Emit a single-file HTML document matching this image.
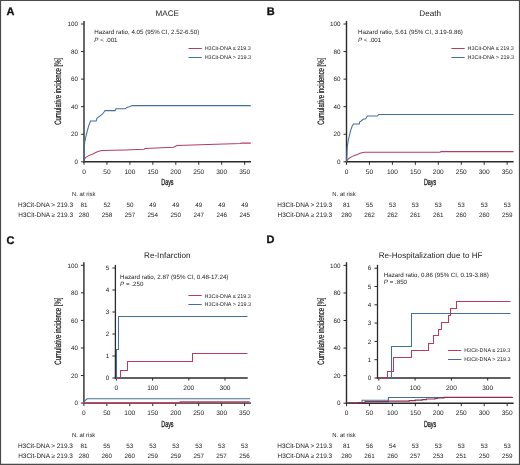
<!DOCTYPE html>
<html><head><meta charset="utf-8"><title>Cumulative incidence</title>
<style>html,body{margin:0;padding:0;background:#fff;width:520px;height:465px;overflow:hidden;}body{position:relative;font-family:"Liberation Sans", sans-serif;}</style>
</head><body>
<svg width="520" height="465" viewBox="0 0 520 465" style="position:absolute;left:0;top:0;will-change:transform" text-rendering="geometricPrecision" font-family='"Liberation Sans", sans-serif'>
<rect x="0" y="0" width="520" height="465" fill="#fff"/>
<text x="6.60" y="14.50" font-size="11.0" text-anchor="start" font-weight="bold" fill="#111" stroke="#111" stroke-width="0.3">A</text>
<text x="167.30" y="15.70" font-size="8.15" text-anchor="middle" font-weight="normal" fill="#1c1c1c" >MACE</text>
<line x1="84.00" y1="21.00" x2="84.00" y2="162.50" stroke="#2a2a2a" stroke-width="1.4"/>
<line x1="83.30" y1="161.80" x2="251.00" y2="161.80" stroke="#2a2a2a" stroke-width="1.4"/>
<line x1="81.00" y1="161.80" x2="84.00" y2="161.80" stroke="#2a2a2a" stroke-width="1"/>
<text x="78.00" y="164.00" font-size="6.3" text-anchor="end" font-weight="normal" fill="#1c1c1c" >0</text>
<line x1="81.00" y1="134.24" x2="84.00" y2="134.24" stroke="#2a2a2a" stroke-width="1"/>
<text x="78.00" y="136.44" font-size="6.3" text-anchor="end" font-weight="normal" fill="#1c1c1c" >20</text>
<line x1="81.00" y1="106.68" x2="84.00" y2="106.68" stroke="#2a2a2a" stroke-width="1"/>
<text x="78.00" y="108.88" font-size="6.3" text-anchor="end" font-weight="normal" fill="#1c1c1c" >40</text>
<line x1="81.00" y1="79.12" x2="84.00" y2="79.12" stroke="#2a2a2a" stroke-width="1"/>
<text x="78.00" y="81.32" font-size="6.3" text-anchor="end" font-weight="normal" fill="#1c1c1c" >60</text>
<line x1="81.00" y1="51.56" x2="84.00" y2="51.56" stroke="#2a2a2a" stroke-width="1"/>
<text x="78.00" y="53.76" font-size="6.3" text-anchor="end" font-weight="normal" fill="#1c1c1c" >80</text>
<line x1="81.00" y1="24.00" x2="84.00" y2="24.00" stroke="#2a2a2a" stroke-width="1"/>
<text x="78.00" y="26.20" font-size="6.3" text-anchor="end" font-weight="normal" fill="#1c1c1c" >100</text>
<line x1="84.00" y1="161.80" x2="84.00" y2="164.80" stroke="#2a2a2a" stroke-width="1"/>
<text x="84.00" y="173.80" font-size="6.55" text-anchor="middle" font-weight="normal" fill="#1c1c1c" >0</text>
<line x1="106.95" y1="161.80" x2="106.95" y2="164.80" stroke="#2a2a2a" stroke-width="1"/>
<text x="106.95" y="173.80" font-size="6.55" text-anchor="middle" font-weight="normal" fill="#1c1c1c" >50</text>
<line x1="129.90" y1="161.80" x2="129.90" y2="164.80" stroke="#2a2a2a" stroke-width="1"/>
<text x="129.90" y="173.80" font-size="6.55" text-anchor="middle" font-weight="normal" fill="#1c1c1c" >100</text>
<line x1="152.85" y1="161.80" x2="152.85" y2="164.80" stroke="#2a2a2a" stroke-width="1"/>
<text x="152.85" y="173.80" font-size="6.55" text-anchor="middle" font-weight="normal" fill="#1c1c1c" >150</text>
<line x1="175.80" y1="161.80" x2="175.80" y2="164.80" stroke="#2a2a2a" stroke-width="1"/>
<text x="175.80" y="173.80" font-size="6.55" text-anchor="middle" font-weight="normal" fill="#1c1c1c" >200</text>
<line x1="198.75" y1="161.80" x2="198.75" y2="164.80" stroke="#2a2a2a" stroke-width="1"/>
<text x="198.75" y="173.80" font-size="6.55" text-anchor="middle" font-weight="normal" fill="#1c1c1c" >250</text>
<line x1="221.70" y1="161.80" x2="221.70" y2="164.80" stroke="#2a2a2a" stroke-width="1"/>
<text x="221.70" y="173.80" font-size="6.55" text-anchor="middle" font-weight="normal" fill="#1c1c1c" >300</text>
<line x1="244.65" y1="161.80" x2="244.65" y2="164.80" stroke="#2a2a2a" stroke-width="1"/>
<text x="244.65" y="173.80" font-size="6.55" text-anchor="middle" font-weight="normal" fill="#1c1c1c" >350</text>
<text transform="translate(61.10,91.30) rotate(-90) scale(0.65,1)" font-size="9.2" text-anchor="middle" fill="#1c1c1c" stroke="#1c1c1c" stroke-width="0.22" x="0" y="0">Cumulative incidence [%]</text>
<text transform="translate(167.40,185.30) scale(0.61,1)" font-size="8.9" text-anchor="middle" fill="#1c1c1c" stroke="#1c1c1c" stroke-width="0.32" x="0" y="0">Days</text>
<text x="94.30" y="34.00" font-size="6.2" text-anchor="start" font-weight="normal" fill="#1c1c1c" >Hazard ratio, 4.05 (95% CI, 2.52-6.50)</text>
<text x="94.30" y="41.60" font-size="6.2" fill="#1c1c1c"><tspan font-style="italic">P</tspan> < .001</text>
<line x1="188.50" y1="48.50" x2="201.80" y2="48.50" stroke="#b53d5e" stroke-width="1.0"/>
<line x1="188.50" y1="57.50" x2="201.80" y2="57.50" stroke="#42709a" stroke-width="1.0"/>
<text x="204.70" y="50.10" font-size="5.45" text-anchor="start" font-weight="normal" fill="#1c1c1c" >H3Cit-DNA ≤ 219.3</text>
<text x="204.70" y="59.10" font-size="5.45" text-anchor="start" font-weight="normal" fill="#1c1c1c" >H3Cit-DNA &gt; 219.3</text>
<polyline points="83.80,161.30 85.40,157.60 88.80,155.60 92.80,153.90 96.20,152.20 98.90,151.20 101.60,150.40 125.40,149.90 137.00,149.60 144.00,149.30 145.00,148.60 173.50,147.30 177.00,145.60 216.00,144.30 240.50,143.60 241.00,143.10 250.80,143.10" fill="none" stroke="#b53d5e" stroke-width="1.05" stroke-linejoin="miter"/>
<polyline points="83.90,161.80 84.20,147.00 84.80,141.90 85.90,136.50 87.50,130.00 89.10,124.70 90.50,121.00 96.20,121.00 96.90,118.30 98.00,117.30 99.60,116.30 102.30,114.20 104.40,111.50 105.00,110.60 115.20,110.60 115.90,108.80 125.40,108.80 126.70,107.50 130.10,106.50 132.10,105.60 250.80,105.60" fill="none" stroke="#42709a" stroke-width="1.05" stroke-linejoin="miter"/>
<text x="72.00" y="196.20" font-size="5.95" text-anchor="start" font-weight="normal" fill="#1c1c1c" >N. at risk</text>
<text x="73.00" y="206.80" font-size="6.45" text-anchor="end" font-weight="normal" fill="#1c1c1c" >H3Cit-DNA &gt; 219.3</text>
<text x="73.00" y="216.80" font-size="6.45" text-anchor="end" font-weight="normal" fill="#1c1c1c" >H3Cit-DNA ≥ 219.3</text>
<text x="84.00" y="206.80" font-size="6.3" text-anchor="middle" font-weight="normal" fill="#1c1c1c" >81</text>
<text x="84.00" y="216.80" font-size="6.3" text-anchor="middle" font-weight="normal" fill="#1c1c1c" >280</text>
<text x="106.95" y="206.80" font-size="6.3" text-anchor="middle" font-weight="normal" fill="#1c1c1c" >52</text>
<text x="106.95" y="216.80" font-size="6.3" text-anchor="middle" font-weight="normal" fill="#1c1c1c" >258</text>
<text x="129.90" y="206.80" font-size="6.3" text-anchor="middle" font-weight="normal" fill="#1c1c1c" >50</text>
<text x="129.90" y="216.80" font-size="6.3" text-anchor="middle" font-weight="normal" fill="#1c1c1c" >257</text>
<text x="152.85" y="206.80" font-size="6.3" text-anchor="middle" font-weight="normal" fill="#1c1c1c" >49</text>
<text x="152.85" y="216.80" font-size="6.3" text-anchor="middle" font-weight="normal" fill="#1c1c1c" >254</text>
<text x="175.80" y="206.80" font-size="6.3" text-anchor="middle" font-weight="normal" fill="#1c1c1c" >49</text>
<text x="175.80" y="216.80" font-size="6.3" text-anchor="middle" font-weight="normal" fill="#1c1c1c" >250</text>
<text x="198.75" y="206.80" font-size="6.3" text-anchor="middle" font-weight="normal" fill="#1c1c1c" >49</text>
<text x="198.75" y="216.80" font-size="6.3" text-anchor="middle" font-weight="normal" fill="#1c1c1c" >247</text>
<text x="221.70" y="206.80" font-size="6.3" text-anchor="middle" font-weight="normal" fill="#1c1c1c" >49</text>
<text x="221.70" y="216.80" font-size="6.3" text-anchor="middle" font-weight="normal" fill="#1c1c1c" >246</text>
<text x="244.65" y="206.80" font-size="6.3" text-anchor="middle" font-weight="normal" fill="#1c1c1c" >49</text>
<text x="244.65" y="216.80" font-size="6.3" text-anchor="middle" font-weight="normal" fill="#1c1c1c" >245</text>
<text x="266.70" y="14.60" font-size="11.0" text-anchor="start" font-weight="bold" fill="#111" stroke="#111" stroke-width="0.3">B</text>
<text x="430.20" y="15.70" font-size="8.15" text-anchor="middle" font-weight="normal" fill="#1c1c1c" >Death</text>
<line x1="346.50" y1="21.00" x2="346.50" y2="162.50" stroke="#2a2a2a" stroke-width="1.4"/>
<line x1="345.80" y1="161.80" x2="513.60" y2="161.80" stroke="#2a2a2a" stroke-width="1.4"/>
<line x1="343.50" y1="161.80" x2="346.50" y2="161.80" stroke="#2a2a2a" stroke-width="1"/>
<text x="340.50" y="164.00" font-size="6.3" text-anchor="end" font-weight="normal" fill="#1c1c1c" >0</text>
<line x1="343.50" y1="134.24" x2="346.50" y2="134.24" stroke="#2a2a2a" stroke-width="1"/>
<text x="340.50" y="136.44" font-size="6.3" text-anchor="end" font-weight="normal" fill="#1c1c1c" >20</text>
<line x1="343.50" y1="106.68" x2="346.50" y2="106.68" stroke="#2a2a2a" stroke-width="1"/>
<text x="340.50" y="108.88" font-size="6.3" text-anchor="end" font-weight="normal" fill="#1c1c1c" >40</text>
<line x1="343.50" y1="79.12" x2="346.50" y2="79.12" stroke="#2a2a2a" stroke-width="1"/>
<text x="340.50" y="81.32" font-size="6.3" text-anchor="end" font-weight="normal" fill="#1c1c1c" >60</text>
<line x1="343.50" y1="51.56" x2="346.50" y2="51.56" stroke="#2a2a2a" stroke-width="1"/>
<text x="340.50" y="53.76" font-size="6.3" text-anchor="end" font-weight="normal" fill="#1c1c1c" >80</text>
<line x1="343.50" y1="24.00" x2="346.50" y2="24.00" stroke="#2a2a2a" stroke-width="1"/>
<text x="340.50" y="26.20" font-size="6.3" text-anchor="end" font-weight="normal" fill="#1c1c1c" >100</text>
<line x1="346.50" y1="161.80" x2="346.50" y2="164.80" stroke="#2a2a2a" stroke-width="1"/>
<text x="346.50" y="173.80" font-size="6.55" text-anchor="middle" font-weight="normal" fill="#1c1c1c" >0</text>
<line x1="369.45" y1="161.80" x2="369.45" y2="164.80" stroke="#2a2a2a" stroke-width="1"/>
<text x="369.45" y="173.80" font-size="6.55" text-anchor="middle" font-weight="normal" fill="#1c1c1c" >50</text>
<line x1="392.40" y1="161.80" x2="392.40" y2="164.80" stroke="#2a2a2a" stroke-width="1"/>
<text x="392.40" y="173.80" font-size="6.55" text-anchor="middle" font-weight="normal" fill="#1c1c1c" >100</text>
<line x1="415.35" y1="161.80" x2="415.35" y2="164.80" stroke="#2a2a2a" stroke-width="1"/>
<text x="415.35" y="173.80" font-size="6.55" text-anchor="middle" font-weight="normal" fill="#1c1c1c" >150</text>
<line x1="438.30" y1="161.80" x2="438.30" y2="164.80" stroke="#2a2a2a" stroke-width="1"/>
<text x="438.30" y="173.80" font-size="6.55" text-anchor="middle" font-weight="normal" fill="#1c1c1c" >200</text>
<line x1="461.25" y1="161.80" x2="461.25" y2="164.80" stroke="#2a2a2a" stroke-width="1"/>
<text x="461.25" y="173.80" font-size="6.55" text-anchor="middle" font-weight="normal" fill="#1c1c1c" >250</text>
<line x1="484.20" y1="161.80" x2="484.20" y2="164.80" stroke="#2a2a2a" stroke-width="1"/>
<text x="484.20" y="173.80" font-size="6.55" text-anchor="middle" font-weight="normal" fill="#1c1c1c" >300</text>
<line x1="507.15" y1="161.80" x2="507.15" y2="164.80" stroke="#2a2a2a" stroke-width="1"/>
<text x="507.15" y="173.80" font-size="6.55" text-anchor="middle" font-weight="normal" fill="#1c1c1c" >350</text>
<text transform="translate(323.60,91.30) rotate(-90) scale(0.65,1)" font-size="9.2" text-anchor="middle" fill="#1c1c1c" stroke="#1c1c1c" stroke-width="0.22" x="0" y="0">Cumulative incidence [%]</text>
<text transform="translate(430.10,185.30) scale(0.61,1)" font-size="8.9" text-anchor="middle" fill="#1c1c1c" stroke="#1c1c1c" stroke-width="0.32" x="0" y="0">Days</text>
<text x="358.00" y="33.90" font-size="6.2" text-anchor="start" font-weight="normal" fill="#1c1c1c" >Hazard ratio, 5.61 (95% CI, 3.19-9.86)</text>
<text x="358.00" y="41.50" font-size="6.2" fill="#1c1c1c"><tspan font-style="italic">P</tspan> < .001</text>
<line x1="451.40" y1="48.50" x2="464.70" y2="48.50" stroke="#b53d5e" stroke-width="1.0"/>
<line x1="451.40" y1="57.50" x2="464.70" y2="57.50" stroke="#42709a" stroke-width="1.0"/>
<text x="467.60" y="50.00" font-size="5.45" text-anchor="start" font-weight="normal" fill="#1c1c1c" >H3Cit-DNA ≤ 219.3</text>
<text x="467.60" y="59.00" font-size="5.45" text-anchor="start" font-weight="normal" fill="#1c1c1c" >H3Cit-DNA &gt; 219.3</text>
<polyline points="346.50,161.30 348.70,158.50 351.90,156.60 355.00,155.30 357.50,154.60 359.30,153.60 361.80,152.80 364.50,152.30 440.00,152.30 441.00,151.60 513.60,151.60" fill="none" stroke="#b53d5e" stroke-width="1.05" stroke-linejoin="miter"/>
<polyline points="346.50,161.80 346.90,155.00 347.20,147.40 348.10,141.20 349.40,135.50 350.60,130.60 352.20,126.00 353.50,124.00 359.30,124.00 359.70,121.80 361.20,121.00 363.10,119.30 365.60,118.70 367.40,116.00 377.40,116.00 378.70,114.40 513.60,114.40" fill="none" stroke="#42709a" stroke-width="1.05" stroke-linejoin="miter"/>
<text x="332.30" y="196.20" font-size="5.95" text-anchor="start" font-weight="normal" fill="#1c1c1c" >N. at risk</text>
<text x="332.20" y="206.80" font-size="6.45" text-anchor="end" font-weight="normal" fill="#1c1c1c" >H3Cit-DNA &gt; 219.3</text>
<text x="332.20" y="216.80" font-size="6.45" text-anchor="end" font-weight="normal" fill="#1c1c1c" >H3Cit-DNA ≥ 219.3</text>
<text x="346.50" y="206.80" font-size="6.3" text-anchor="middle" font-weight="normal" fill="#1c1c1c" >81</text>
<text x="346.50" y="216.80" font-size="6.3" text-anchor="middle" font-weight="normal" fill="#1c1c1c" >280</text>
<text x="369.45" y="206.80" font-size="6.3" text-anchor="middle" font-weight="normal" fill="#1c1c1c" >55</text>
<text x="369.45" y="216.80" font-size="6.3" text-anchor="middle" font-weight="normal" fill="#1c1c1c" >262</text>
<text x="392.40" y="206.80" font-size="6.3" text-anchor="middle" font-weight="normal" fill="#1c1c1c" >53</text>
<text x="392.40" y="216.80" font-size="6.3" text-anchor="middle" font-weight="normal" fill="#1c1c1c" >262</text>
<text x="415.35" y="206.80" font-size="6.3" text-anchor="middle" font-weight="normal" fill="#1c1c1c" >53</text>
<text x="415.35" y="216.80" font-size="6.3" text-anchor="middle" font-weight="normal" fill="#1c1c1c" >261</text>
<text x="438.30" y="206.80" font-size="6.3" text-anchor="middle" font-weight="normal" fill="#1c1c1c" >53</text>
<text x="438.30" y="216.80" font-size="6.3" text-anchor="middle" font-weight="normal" fill="#1c1c1c" >261</text>
<text x="461.25" y="206.80" font-size="6.3" text-anchor="middle" font-weight="normal" fill="#1c1c1c" >53</text>
<text x="461.25" y="216.80" font-size="6.3" text-anchor="middle" font-weight="normal" fill="#1c1c1c" >260</text>
<text x="484.20" y="206.80" font-size="6.3" text-anchor="middle" font-weight="normal" fill="#1c1c1c" >53</text>
<text x="484.20" y="216.80" font-size="6.3" text-anchor="middle" font-weight="normal" fill="#1c1c1c" >260</text>
<text x="507.15" y="206.80" font-size="6.3" text-anchor="middle" font-weight="normal" fill="#1c1c1c" >53</text>
<text x="507.15" y="216.80" font-size="6.3" text-anchor="middle" font-weight="normal" fill="#1c1c1c" >259</text>
<text x="6.60" y="243.50" font-size="11.0" text-anchor="start" font-weight="bold" fill="#111" stroke="#111" stroke-width="0.3">C</text>
<text x="167.30" y="257.50" font-size="8.15" text-anchor="middle" font-weight="normal" fill="#1c1c1c" >Re-Infarction</text>
<line x1="83.90" y1="262.20" x2="83.90" y2="403.80" stroke="#2a2a2a" stroke-width="1.4"/>
<line x1="83.20" y1="403.10" x2="251.00" y2="403.10" stroke="#2a2a2a" stroke-width="1.4"/>
<line x1="80.90" y1="403.10" x2="83.90" y2="403.10" stroke="#2a2a2a" stroke-width="1"/>
<text x="77.90" y="405.30" font-size="6.3" text-anchor="end" font-weight="normal" fill="#1c1c1c" >0</text>
<line x1="80.90" y1="375.54" x2="83.90" y2="375.54" stroke="#2a2a2a" stroke-width="1"/>
<text x="77.90" y="377.74" font-size="6.3" text-anchor="end" font-weight="normal" fill="#1c1c1c" >20</text>
<line x1="80.90" y1="347.98" x2="83.90" y2="347.98" stroke="#2a2a2a" stroke-width="1"/>
<text x="77.90" y="350.18" font-size="6.3" text-anchor="end" font-weight="normal" fill="#1c1c1c" >40</text>
<line x1="80.90" y1="320.42" x2="83.90" y2="320.42" stroke="#2a2a2a" stroke-width="1"/>
<text x="77.90" y="322.62" font-size="6.3" text-anchor="end" font-weight="normal" fill="#1c1c1c" >60</text>
<line x1="80.90" y1="292.86" x2="83.90" y2="292.86" stroke="#2a2a2a" stroke-width="1"/>
<text x="77.90" y="295.06" font-size="6.3" text-anchor="end" font-weight="normal" fill="#1c1c1c" >80</text>
<line x1="80.90" y1="265.30" x2="83.90" y2="265.30" stroke="#2a2a2a" stroke-width="1"/>
<text x="77.90" y="267.50" font-size="6.3" text-anchor="end" font-weight="normal" fill="#1c1c1c" >100</text>
<line x1="83.90" y1="403.10" x2="83.90" y2="406.10" stroke="#2a2a2a" stroke-width="1"/>
<text x="83.90" y="415.10" font-size="6.55" text-anchor="middle" font-weight="normal" fill="#1c1c1c" >0</text>
<line x1="106.85" y1="403.10" x2="106.85" y2="406.10" stroke="#2a2a2a" stroke-width="1"/>
<text x="106.85" y="415.10" font-size="6.55" text-anchor="middle" font-weight="normal" fill="#1c1c1c" >50</text>
<line x1="129.80" y1="403.10" x2="129.80" y2="406.10" stroke="#2a2a2a" stroke-width="1"/>
<text x="129.80" y="415.10" font-size="6.55" text-anchor="middle" font-weight="normal" fill="#1c1c1c" >100</text>
<line x1="152.75" y1="403.10" x2="152.75" y2="406.10" stroke="#2a2a2a" stroke-width="1"/>
<text x="152.75" y="415.10" font-size="6.55" text-anchor="middle" font-weight="normal" fill="#1c1c1c" >150</text>
<line x1="175.70" y1="403.10" x2="175.70" y2="406.10" stroke="#2a2a2a" stroke-width="1"/>
<text x="175.70" y="415.10" font-size="6.55" text-anchor="middle" font-weight="normal" fill="#1c1c1c" >200</text>
<line x1="198.65" y1="403.10" x2="198.65" y2="406.10" stroke="#2a2a2a" stroke-width="1"/>
<text x="198.65" y="415.10" font-size="6.55" text-anchor="middle" font-weight="normal" fill="#1c1c1c" >250</text>
<line x1="221.60" y1="403.10" x2="221.60" y2="406.10" stroke="#2a2a2a" stroke-width="1"/>
<text x="221.60" y="415.10" font-size="6.55" text-anchor="middle" font-weight="normal" fill="#1c1c1c" >300</text>
<line x1="244.55" y1="403.10" x2="244.55" y2="406.10" stroke="#2a2a2a" stroke-width="1"/>
<text x="244.55" y="415.10" font-size="6.55" text-anchor="middle" font-weight="normal" fill="#1c1c1c" >350</text>
<text transform="translate(61.10,331.10) rotate(-90) scale(0.65,1)" font-size="9.2" text-anchor="middle" fill="#1c1c1c" stroke="#1c1c1c" stroke-width="0.22" x="0" y="0">Cumulative incidence [%]</text>
<text transform="translate(167.40,426.50) scale(0.61,1)" font-size="8.9" text-anchor="middle" fill="#1c1c1c" stroke="#1c1c1c" stroke-width="0.32" x="0" y="0">Days</text>
<polyline points="83.90,403.10 83.90,401.60 87.20,398.80 250.20,398.80" fill="none" stroke="#42709a" stroke-width="1.1" stroke-linejoin="miter"/>
<polyline points="82.60,403.00 180.30,403.00 180.30,402.00 249.60,402.00" fill="none" stroke="#b53d5e" stroke-width="1.5" stroke-linejoin="miter"/>
<line x1="115.40" y1="264.90" x2="115.40" y2="378.60" stroke="#2a2a2a" stroke-width="1.3"/>
<line x1="114.80" y1="378.00" x2="247.70" y2="378.00" stroke="#2a2a2a" stroke-width="1.4"/>
<line x1="112.40" y1="378.00" x2="115.40" y2="378.00" stroke="#2a2a2a" stroke-width="1"/>
<text x="109.20" y="380.20" font-size="6.3" text-anchor="end" font-weight="normal" fill="#1c1c1c" >0</text>
<line x1="112.40" y1="356.00" x2="115.40" y2="356.00" stroke="#2a2a2a" stroke-width="1"/>
<text x="109.20" y="358.20" font-size="6.3" text-anchor="end" font-weight="normal" fill="#1c1c1c" >1</text>
<line x1="112.40" y1="334.00" x2="115.40" y2="334.00" stroke="#2a2a2a" stroke-width="1"/>
<text x="109.20" y="336.20" font-size="6.3" text-anchor="end" font-weight="normal" fill="#1c1c1c" >2</text>
<line x1="112.40" y1="312.00" x2="115.40" y2="312.00" stroke="#2a2a2a" stroke-width="1"/>
<text x="109.20" y="314.20" font-size="6.3" text-anchor="end" font-weight="normal" fill="#1c1c1c" >3</text>
<line x1="112.40" y1="290.00" x2="115.40" y2="290.00" stroke="#2a2a2a" stroke-width="1"/>
<text x="109.20" y="292.20" font-size="6.3" text-anchor="end" font-weight="normal" fill="#1c1c1c" >4</text>
<line x1="112.40" y1="268.00" x2="115.40" y2="268.00" stroke="#2a2a2a" stroke-width="1"/>
<text x="109.20" y="270.20" font-size="6.3" text-anchor="end" font-weight="normal" fill="#1c1c1c" >5</text>
<line x1="116.40" y1="378.00" x2="116.40" y2="380.60" stroke="#2a2a2a" stroke-width="1"/>
<text x="116.40" y="389.60" font-size="6.55" text-anchor="middle" font-weight="normal" fill="#1c1c1c" >0</text>
<line x1="152.60" y1="378.00" x2="152.60" y2="380.60" stroke="#2a2a2a" stroke-width="1"/>
<text x="152.60" y="389.60" font-size="6.55" text-anchor="middle" font-weight="normal" fill="#1c1c1c" >100</text>
<line x1="188.80" y1="378.00" x2="188.80" y2="380.60" stroke="#2a2a2a" stroke-width="1"/>
<text x="188.80" y="389.60" font-size="6.55" text-anchor="middle" font-weight="normal" fill="#1c1c1c" >200</text>
<line x1="225.00" y1="378.00" x2="225.00" y2="380.60" stroke="#2a2a2a" stroke-width="1"/>
<text x="225.00" y="389.60" font-size="6.55" text-anchor="middle" font-weight="normal" fill="#1c1c1c" >300</text>
<text x="120.10" y="278.80" font-size="6.2" text-anchor="start" font-weight="normal" fill="#1c1c1c" >Hazard ratio, 2.87 (95% CI, 0.48-17.24)</text>
<text x="120.10" y="286.40" font-size="6.2" fill="#1c1c1c"><tspan font-style="italic">P</tspan> = .250</text>
<line x1="188.40" y1="295.50" x2="201.70" y2="295.50" stroke="#b53d5e" stroke-width="1.0"/>
<line x1="188.40" y1="304.50" x2="201.70" y2="304.50" stroke="#42709a" stroke-width="1.0"/>
<text x="204.60" y="297.60" font-size="5.45" text-anchor="start" font-weight="normal" fill="#1c1c1c" >H3Cit-DNA ≤ 219.3</text>
<text x="204.60" y="306.30" font-size="5.45" text-anchor="start" font-weight="normal" fill="#1c1c1c" >H3Cit-DNA &gt; 219.3</text>
<polyline points="116.50,378.50 120.50,378.50 120.50,370.50 127.50,370.50 127.50,361.50 192.50,361.50 192.50,353.50 247.50,353.50" fill="none" stroke="#b53d5e" stroke-width="1.05" stroke-linejoin="miter"/>
<polyline points="116.50,378.50 116.50,378.50 116.50,349.50 118.50,349.50 118.50,316.50 247.50,316.50" fill="none" stroke="#42709a" stroke-width="1.05" stroke-linejoin="miter"/>
<text x="71.90" y="437.10" font-size="5.95" text-anchor="start" font-weight="normal" fill="#1c1c1c" >N. at risk</text>
<text x="72.90" y="447.70" font-size="6.45" text-anchor="end" font-weight="normal" fill="#1c1c1c" >H3Cit-DNA &gt; 219.3</text>
<text x="72.90" y="457.70" font-size="6.45" text-anchor="end" font-weight="normal" fill="#1c1c1c" >H3Cit-DNA ≥ 219.3</text>
<text x="83.90" y="447.70" font-size="6.3" text-anchor="middle" font-weight="normal" fill="#1c1c1c" >81</text>
<text x="83.90" y="457.70" font-size="6.3" text-anchor="middle" font-weight="normal" fill="#1c1c1c" >280</text>
<text x="106.85" y="447.70" font-size="6.3" text-anchor="middle" font-weight="normal" fill="#1c1c1c" >55</text>
<text x="106.85" y="457.70" font-size="6.3" text-anchor="middle" font-weight="normal" fill="#1c1c1c" >260</text>
<text x="129.80" y="447.70" font-size="6.3" text-anchor="middle" font-weight="normal" fill="#1c1c1c" >53</text>
<text x="129.80" y="457.70" font-size="6.3" text-anchor="middle" font-weight="normal" fill="#1c1c1c" >260</text>
<text x="152.75" y="447.70" font-size="6.3" text-anchor="middle" font-weight="normal" fill="#1c1c1c" >53</text>
<text x="152.75" y="457.70" font-size="6.3" text-anchor="middle" font-weight="normal" fill="#1c1c1c" >259</text>
<text x="175.70" y="447.70" font-size="6.3" text-anchor="middle" font-weight="normal" fill="#1c1c1c" >53</text>
<text x="175.70" y="457.70" font-size="6.3" text-anchor="middle" font-weight="normal" fill="#1c1c1c" >259</text>
<text x="198.65" y="447.70" font-size="6.3" text-anchor="middle" font-weight="normal" fill="#1c1c1c" >53</text>
<text x="198.65" y="457.70" font-size="6.3" text-anchor="middle" font-weight="normal" fill="#1c1c1c" >257</text>
<text x="221.60" y="447.70" font-size="6.3" text-anchor="middle" font-weight="normal" fill="#1c1c1c" >53</text>
<text x="221.60" y="457.70" font-size="6.3" text-anchor="middle" font-weight="normal" fill="#1c1c1c" >257</text>
<text x="244.55" y="447.70" font-size="6.3" text-anchor="middle" font-weight="normal" fill="#1c1c1c" >53</text>
<text x="244.55" y="457.70" font-size="6.3" text-anchor="middle" font-weight="normal" fill="#1c1c1c" >256</text>
<text x="266.50" y="243.20" font-size="11.0" text-anchor="start" font-weight="bold" fill="#111" stroke="#111" stroke-width="0.3">D</text>
<text x="430.60" y="257.50" font-size="8.15" text-anchor="middle" font-weight="normal" fill="#1c1c1c" >Re-Hospitalization due to HF</text>
<line x1="346.50" y1="262.20" x2="346.50" y2="403.90" stroke="#2a2a2a" stroke-width="1.4"/>
<line x1="345.80" y1="403.20" x2="513.60" y2="403.20" stroke="#2a2a2a" stroke-width="1.4"/>
<line x1="343.50" y1="403.20" x2="346.50" y2="403.20" stroke="#2a2a2a" stroke-width="1"/>
<text x="340.50" y="405.40" font-size="6.3" text-anchor="end" font-weight="normal" fill="#1c1c1c" >0</text>
<line x1="343.50" y1="375.64" x2="346.50" y2="375.64" stroke="#2a2a2a" stroke-width="1"/>
<text x="340.50" y="377.84" font-size="6.3" text-anchor="end" font-weight="normal" fill="#1c1c1c" >20</text>
<line x1="343.50" y1="348.08" x2="346.50" y2="348.08" stroke="#2a2a2a" stroke-width="1"/>
<text x="340.50" y="350.28" font-size="6.3" text-anchor="end" font-weight="normal" fill="#1c1c1c" >40</text>
<line x1="343.50" y1="320.52" x2="346.50" y2="320.52" stroke="#2a2a2a" stroke-width="1"/>
<text x="340.50" y="322.72" font-size="6.3" text-anchor="end" font-weight="normal" fill="#1c1c1c" >60</text>
<line x1="343.50" y1="292.96" x2="346.50" y2="292.96" stroke="#2a2a2a" stroke-width="1"/>
<text x="340.50" y="295.16" font-size="6.3" text-anchor="end" font-weight="normal" fill="#1c1c1c" >80</text>
<line x1="343.50" y1="265.40" x2="346.50" y2="265.40" stroke="#2a2a2a" stroke-width="1"/>
<text x="340.50" y="267.60" font-size="6.3" text-anchor="end" font-weight="normal" fill="#1c1c1c" >100</text>
<line x1="346.50" y1="403.20" x2="346.50" y2="406.20" stroke="#2a2a2a" stroke-width="1"/>
<text x="346.50" y="415.20" font-size="6.55" text-anchor="middle" font-weight="normal" fill="#1c1c1c" >0</text>
<line x1="369.45" y1="403.20" x2="369.45" y2="406.20" stroke="#2a2a2a" stroke-width="1"/>
<text x="369.45" y="415.20" font-size="6.55" text-anchor="middle" font-weight="normal" fill="#1c1c1c" >50</text>
<line x1="392.40" y1="403.20" x2="392.40" y2="406.20" stroke="#2a2a2a" stroke-width="1"/>
<text x="392.40" y="415.20" font-size="6.55" text-anchor="middle" font-weight="normal" fill="#1c1c1c" >100</text>
<line x1="415.35" y1="403.20" x2="415.35" y2="406.20" stroke="#2a2a2a" stroke-width="1"/>
<text x="415.35" y="415.20" font-size="6.55" text-anchor="middle" font-weight="normal" fill="#1c1c1c" >150</text>
<line x1="438.30" y1="403.20" x2="438.30" y2="406.20" stroke="#2a2a2a" stroke-width="1"/>
<text x="438.30" y="415.20" font-size="6.55" text-anchor="middle" font-weight="normal" fill="#1c1c1c" >200</text>
<line x1="461.25" y1="403.20" x2="461.25" y2="406.20" stroke="#2a2a2a" stroke-width="1"/>
<text x="461.25" y="415.20" font-size="6.55" text-anchor="middle" font-weight="normal" fill="#1c1c1c" >250</text>
<line x1="484.20" y1="403.20" x2="484.20" y2="406.20" stroke="#2a2a2a" stroke-width="1"/>
<text x="484.20" y="415.20" font-size="6.55" text-anchor="middle" font-weight="normal" fill="#1c1c1c" >300</text>
<line x1="507.15" y1="403.20" x2="507.15" y2="406.20" stroke="#2a2a2a" stroke-width="1"/>
<text x="507.15" y="415.20" font-size="6.55" text-anchor="middle" font-weight="normal" fill="#1c1c1c" >350</text>
<text transform="translate(323.60,331.10) rotate(-90) scale(0.65,1)" font-size="9.2" text-anchor="middle" fill="#1c1c1c" stroke="#1c1c1c" stroke-width="0.22" x="0" y="0">Cumulative incidence [%]</text>
<text transform="translate(430.10,426.50) scale(0.61,1)" font-size="8.9" text-anchor="middle" fill="#1c1c1c" stroke="#1c1c1c" stroke-width="0.32" x="0" y="0">Days</text>
<polyline points="346.90,402.70 362.05,402.70 362.05,400.17 388.49,400.17 388.49,397.49 513.06,397.49" fill="none" stroke="#42709a" stroke-width="1.05" stroke-linejoin="miter"/>
<polyline points="346.50,403.20 357.88,403.20 357.88,402.69 365.09,402.69 365.09,401.64 388.09,401.64 388.09,401.13 409.38,401.13 409.38,400.58 415.35,400.58 415.35,400.03 422.24,400.03 422.24,399.55 426.37,399.55 426.37,399.00 435.09,399.00 435.09,398.51 437.15,398.51 437.15,397.96 444.13,397.96 444.13,397.41 512.66,397.41" fill="none" stroke="#8c2f50" stroke-width="1.2" stroke-linejoin="miter"/>
<line x1="377.50" y1="264.80" x2="377.50" y2="378.60" stroke="#2a2a2a" stroke-width="1.3"/>
<line x1="376.90" y1="378.00" x2="510.50" y2="378.00" stroke="#2a2a2a" stroke-width="1.4"/>
<line x1="374.50" y1="378.00" x2="377.50" y2="378.00" stroke="#2a2a2a" stroke-width="1"/>
<text x="371.30" y="380.20" font-size="6.3" text-anchor="end" font-weight="normal" fill="#1c1c1c" >0</text>
<line x1="374.50" y1="359.70" x2="377.50" y2="359.70" stroke="#2a2a2a" stroke-width="1"/>
<text x="371.30" y="361.90" font-size="6.3" text-anchor="end" font-weight="normal" fill="#1c1c1c" >1</text>
<line x1="374.50" y1="341.40" x2="377.50" y2="341.40" stroke="#2a2a2a" stroke-width="1"/>
<text x="371.30" y="343.60" font-size="6.3" text-anchor="end" font-weight="normal" fill="#1c1c1c" >2</text>
<line x1="374.50" y1="323.10" x2="377.50" y2="323.10" stroke="#2a2a2a" stroke-width="1"/>
<text x="371.30" y="325.30" font-size="6.3" text-anchor="end" font-weight="normal" fill="#1c1c1c" >3</text>
<line x1="374.50" y1="304.80" x2="377.50" y2="304.80" stroke="#2a2a2a" stroke-width="1"/>
<text x="371.30" y="307.00" font-size="6.3" text-anchor="end" font-weight="normal" fill="#1c1c1c" >4</text>
<line x1="374.50" y1="286.50" x2="377.50" y2="286.50" stroke="#2a2a2a" stroke-width="1"/>
<text x="371.30" y="288.70" font-size="6.3" text-anchor="end" font-weight="normal" fill="#1c1c1c" >5</text>
<line x1="374.50" y1="268.20" x2="377.50" y2="268.20" stroke="#2a2a2a" stroke-width="1"/>
<text x="371.30" y="270.40" font-size="6.3" text-anchor="end" font-weight="normal" fill="#1c1c1c" >6</text>
<line x1="378.80" y1="378.00" x2="378.80" y2="380.60" stroke="#2a2a2a" stroke-width="1"/>
<text x="378.80" y="389.60" font-size="6.55" text-anchor="middle" font-weight="normal" fill="#1c1c1c" >0</text>
<line x1="415.10" y1="378.00" x2="415.10" y2="380.60" stroke="#2a2a2a" stroke-width="1"/>
<text x="415.10" y="389.60" font-size="6.55" text-anchor="middle" font-weight="normal" fill="#1c1c1c" >100</text>
<line x1="451.40" y1="378.00" x2="451.40" y2="380.60" stroke="#2a2a2a" stroke-width="1"/>
<text x="451.40" y="389.60" font-size="6.55" text-anchor="middle" font-weight="normal" fill="#1c1c1c" >200</text>
<line x1="487.70" y1="378.00" x2="487.70" y2="380.60" stroke="#2a2a2a" stroke-width="1"/>
<text x="487.70" y="389.60" font-size="6.55" text-anchor="middle" font-weight="normal" fill="#1c1c1c" >300</text>
<text x="383.80" y="276.70" font-size="6.2" text-anchor="start" font-weight="normal" fill="#1c1c1c" >Hazard ratio, 0.86 (95% CI, 0.19-3.88)</text>
<text x="383.80" y="284.30" font-size="6.2" fill="#1c1c1c"><tspan font-style="italic">P</tspan> = .850</text>
<line x1="448.00" y1="350.50" x2="461.30" y2="350.50" stroke="#b53d5e" stroke-width="1.0"/>
<line x1="448.00" y1="359.50" x2="461.30" y2="359.50" stroke="#42709a" stroke-width="1.0"/>
<text x="464.20" y="352.40" font-size="5.45" text-anchor="start" font-weight="normal" fill="#1c1c1c" >H3Cit-DNA ≤ 219.3</text>
<text x="464.20" y="361.10" font-size="5.45" text-anchor="start" font-weight="normal" fill="#1c1c1c" >H3Cit-DNA &gt; 219.3</text>
<polyline points="378.50,378.50 391.50,378.50 391.50,346.50 411.50,346.50 411.50,313.50 510.50,313.50" fill="none" stroke="#42709a" stroke-width="1.05" stroke-linejoin="miter"/>
<polyline points="378.50,378.50 387.50,378.50 387.50,371.50 393.50,371.50 393.50,357.50 411.50,357.50 411.50,350.50 428.50,350.50 428.50,343.50 433.50,343.50 433.50,335.50 438.50,335.50 438.50,329.50 441.50,329.50 441.50,322.50 448.50,322.50 448.50,315.50 450.50,315.50 450.50,308.50 456.50,308.50 456.50,301.50 510.50,301.50" fill="none" stroke="#b53d5e" stroke-width="1.05" stroke-linejoin="miter"/>
<text x="332.30" y="437.10" font-size="5.95" text-anchor="start" font-weight="normal" fill="#1c1c1c" >N. at risk</text>
<text x="332.20" y="447.70" font-size="6.45" text-anchor="end" font-weight="normal" fill="#1c1c1c" >H3Cit-DNA &gt; 219.3</text>
<text x="332.20" y="457.70" font-size="6.45" text-anchor="end" font-weight="normal" fill="#1c1c1c" >H3Cit-DNA ≥ 219.3</text>
<text x="346.50" y="447.70" font-size="6.3" text-anchor="middle" font-weight="normal" fill="#1c1c1c" >81</text>
<text x="346.50" y="457.70" font-size="6.3" text-anchor="middle" font-weight="normal" fill="#1c1c1c" >280</text>
<text x="369.45" y="447.70" font-size="6.3" text-anchor="middle" font-weight="normal" fill="#1c1c1c" >56</text>
<text x="369.45" y="457.70" font-size="6.3" text-anchor="middle" font-weight="normal" fill="#1c1c1c" >261</text>
<text x="392.40" y="447.70" font-size="6.3" text-anchor="middle" font-weight="normal" fill="#1c1c1c" >54</text>
<text x="392.40" y="457.70" font-size="6.3" text-anchor="middle" font-weight="normal" fill="#1c1c1c" >260</text>
<text x="415.35" y="447.70" font-size="6.3" text-anchor="middle" font-weight="normal" fill="#1c1c1c" >53</text>
<text x="415.35" y="457.70" font-size="6.3" text-anchor="middle" font-weight="normal" fill="#1c1c1c" >257</text>
<text x="438.30" y="447.70" font-size="6.3" text-anchor="middle" font-weight="normal" fill="#1c1c1c" >53</text>
<text x="438.30" y="457.70" font-size="6.3" text-anchor="middle" font-weight="normal" fill="#1c1c1c" >253</text>
<text x="461.25" y="447.70" font-size="6.3" text-anchor="middle" font-weight="normal" fill="#1c1c1c" >53</text>
<text x="461.25" y="457.70" font-size="6.3" text-anchor="middle" font-weight="normal" fill="#1c1c1c" >251</text>
<text x="484.20" y="447.70" font-size="6.3" text-anchor="middle" font-weight="normal" fill="#1c1c1c" >53</text>
<text x="484.20" y="457.70" font-size="6.3" text-anchor="middle" font-weight="normal" fill="#1c1c1c" >250</text>
<text x="507.15" y="447.70" font-size="6.3" text-anchor="middle" font-weight="normal" fill="#1c1c1c" >53</text>
<text x="507.15" y="457.70" font-size="6.3" text-anchor="middle" font-weight="normal" fill="#1c1c1c" >259</text>
<path d="M0.55 0 V465 M0 0.52 H520 M519.45 0 V465 M0 464.4 H520" fill="none" stroke="#4a4a4a" stroke-width="1.1"/>
</svg>
</body></html>
